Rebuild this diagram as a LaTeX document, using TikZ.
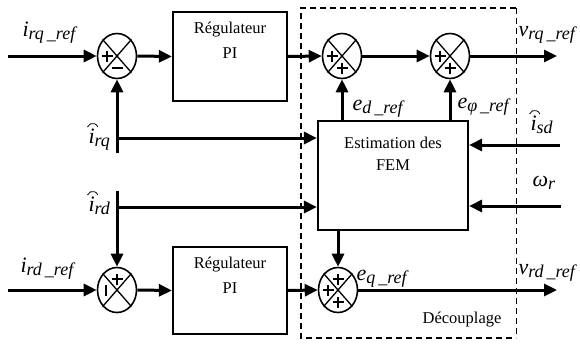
\documentclass[tikz,border=0pt]{standalone}
\usepackage{fontspec}
\setmainfont{Liberation Serif}
\usetikzlibrary{arrows.meta,shapes.geometric}
\newcommand{\sub}[1]{\raisebox{-3.5pt}{\fontsize{18}{18}\selectfont\textit{#1}}}
\newcommand{\plussign}[3]{\draw[sgn] ([shift={(#2-5.5,#3)}]#1.center) -- ++(11,0); \draw[sgn] ([shift={(#2,#3-5.5)}]#1.center) -- ++(0,11);}
\newcommand{\minush}[3]{\draw[sgn] ([shift={(#2-5.5,#3)}]#1.center) -- ++(11,0);}
\newcommand{\minusv}[3]{\draw[sgn] ([shift={(#2,#3-5.5)}]#1.center) -- ++(0,11);}
\begin{document}
\begin{tikzpicture}[x=1pt,y=-1pt,
  line width=3pt,
  >={Triangle[length=13pt,width=12pt]},
  sumnode/.style={draw,ellipse,line width=1.6pt,minimum width=39pt,minimum height=45pt,inner sep=0pt},
  blk/.style={draw,rectangle,line width=2.2pt,inner sep=0pt},
  txt/.style={font=\fontsize{16.5}{18}\selectfont,inner sep=0pt},
  lab/.style={font=\fontsize{22}{23}\selectfont,inner sep=0pt,anchor=base west},
  sgn/.style={line width=1.8pt},
  xline/.style={line width=1.3pt},
  hatarc/.style={line width=0.8pt}]
\useasboundingbox (0,0) rectangle (580,343);
% dashed decoupling frame
\draw[line width=2.4pt, dash pattern=on 6pt off 4pt] (516,8) -- (301,8) -- (301,338) -- (516,338);
\draw[line width=1pt, dash pattern=on 6pt off 4pt] (516,8) -- (516,338);
% sums
\node[sumnode] (s1) at (117,56) {};
\node[sumnode] (s2) at (342,56) {};
\node[sumnode] (s3) at (450,56) {};
\node[sumnode] (s4) at (117,290) {};
\node[sumnode] (s5) at (338,290) {};
\foreach \s in {s1,s2,s3,s4,s5}{
  \draw[xline] (\s.north west) -- (\s.south east);
  \draw[xline] (\s.north east) -- (\s.south west);
}
\plussign{s1}{-10}{0} \minush{s1}{0}{12}
\plussign{s2}{-10}{0} \plussign{s2}{0}{12}
\plussign{s3}{-10}{0} \plussign{s3}{0}{12}
\plussign{s4}{0}{-11} \minusv{s4}{-11}{0}
\plussign{s5}{-10}{0} \plussign{s5}{0}{-11} \plussign{s5}{0}{12}
% blocks
\node[blk,minimum width=114pt,minimum height=89pt] (pi1) at (230,56.5) {};
\node[blk,minimum width=114pt,minimum height=87pt] (pi2) at (230,290.5) {};
\node[blk,minimum width=150pt,minimum height=109pt] (fem) at (393,175.5) {};
\node[txt] (t1a) at (230,30) {Régulateur};
\node[txt] (t1b) at (230,53) {PI};
\node[txt] (t2a) at (230,265) {Régulateur};
\node[txt] (t2b) at (230,288) {PI};
\node[txt] (t3a) at (393,143) {Estimation des};
\node[txt] (t3b) at (393,165) {FEM};
\node[txt] (t4) at (462,320) {Découplage};
% coordinates of free ends
\coordinate (in1) at (8,56);
\coordinate (out1) at (557,56);
\coordinate (in2) at (8,290);
\coordinate (out2) at (557,290);
\coordinate (rq0) at (117,153);
\coordinate (rqj) at (117,138);
\coordinate (rd0) at (117,191);
\coordinate (rdj) at (117,207);
\coordinate (isd) at (560,145);
\coordinate (wr) at (561,206);
% connectors
\draw[->] (in1) -- (s1.west);
\draw[->] (s1.east) -- (pi1.west);
\draw[->] (pi1.east) -- (s2.west);
\draw[->] (s2.east) -- (s3.west);
\draw[->] (s3.east) -- (out1);
\draw[->] (fem.north -| s2) -- (s2.south);
\draw[->] (fem.north -| s3) -- (s3.south);
\draw[->] (rq0) -- (s1.south);
\draw[->] (rqj) -- (rqj -| fem.west);
\draw[->] (rd0) -- (s4.north);
\draw[->] (rdj) -- (rdj -| fem.west);
\draw[->] (isd) -- (isd -| fem.east);
\draw[->] (wr) -- (wr -| fem.east);
\draw[->] (in2) -- (s4.west);
\draw[->] (s4.east) -- (pi2.west);
\draw[->] (pi2.east) -- (s5.west);
\draw[->] (fem.south -| s5) -- (s5.north);
\draw[->] (s5.east) -- (out2);
% labels
\node[lab] (l1) at (21,36) {\textit{i}\sub{rq\,\_ref}};
\node[lab] (l2) at (517,36) {\textit{v}\sub{rq\,\_ref}};
\node[lab] (l3) at (351,110) {\textit{e}\sub{d\,\_ref}};
\node[lab] (l4) at (456,108) {\textit{e}\sub{φ\,\_ref}};
\node[lab] (l5) at (87,143) {\textit{i}\sub{rq}};
\node[lab] (l6) at (87,211) {\textit{i}\sub{rd}};
\node[lab] (l7) at (529,130) {\textit{i}\sub{sd}};
\node[lab] (l8) at (531,186) {\textit{ω}\sub{r}};
\node[lab] (l9) at (19,272) {\textit{i}\sub{rd\,\_ref}};
\node[lab] (l10) at (355,280) {\textit{e}\sub{q\,\_ref}};
\node[lab] (l11) at (517,274) {\textit{v}\sub{rd\,\_ref}};
% hats over the estimated currents
\foreach \l in {l5,l6,l7}{
  \draw[hatarc] ([shift={(0.5,-16)}]\l.base west) arc[start angle=200, end angle=340, radius=5.5];
}
\end{tikzpicture}
\end{document}
